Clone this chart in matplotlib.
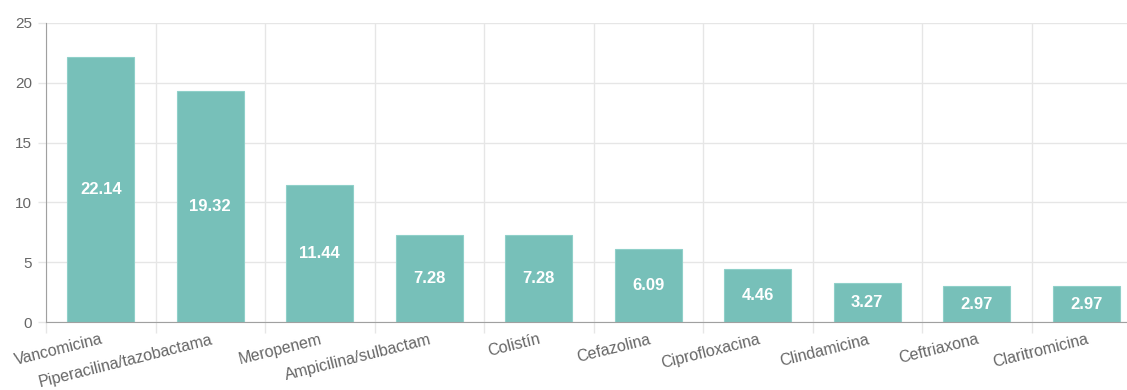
import matplotlib
matplotlib.use("Agg")
import matplotlib.pyplot as plt
import numpy as np

categories = ["Vancomicina", "Piperacilina/tazobactama", "Meropenem",
              "Ampicilina/sulbactam", "Colistín", "Cefazolina",
              "Ciprofloxacina", "Clindamicina", "Ceftriaxona", "Claritromicina"]
values = [22.14, 19.32, 11.44, 7.28, 7.28, 6.09, 4.46, 3.27, 2.97, 2.97]
y_ticks = [0, 5, 10, 15, 20, 25]

plt.rcParams["font.family"] = ["Liberation Sans", "DejaVu Sans"]

W, H = 1127, 390
fig = plt.figure(figsize=(W / 100, H / 100), dpi=100)
# plot area runs past the right edge of the image, as in the reference
left, right, top, bottom = 46, 1141, 23, 322
ax = fig.add_axes([left / W, (H - bottom) / H, (right - left) / W, (bottom - top) / H])

x = np.arange(len(categories))
bar_color = "#77c0b9"
bars = ax.bar(x, values, width=0.61, color=bar_color, edgecolor="#8fd0c9",
              linewidth=0.8, zorder=3)

for xi, v in zip(x, values):
    ax.text(xi, v / 2, f"{v:.2f}", ha="center", va="center", color="white",
            fontsize=12, fontweight="bold", zorder=4)

ax.set_xlim(-0.5, len(categories) - 0.5)
ax.set_ylim(0, 25)

grid_c = "#e6e6e6"
axis_c = "#a0a0a0"
text_c = "#666666"

ax.set_yticks(y_ticks)
ax.set_yticklabels([str(t) for t in y_ticks])
ax.tick_params(axis="y", length=6, width=1, color=grid_c, pad=4,
               labelsize=11, labelcolor=text_c)
ax.yaxis.grid(True, color=grid_c, linewidth=1, zorder=0)

ax.set_xticks(x)
ax.set_xticklabels(categories, rotation=14, ha="right", rotation_mode="anchor")
ax.tick_params(axis="x", which="major", length=0, pad=7,
               labelsize=11.5, labelcolor=text_c)
ax.set_xticks(np.arange(len(categories) + 1) - 0.5, minor=True)
ax.tick_params(axis="x", which="minor", length=8, width=1, color=grid_c)
ax.xaxis.grid(True, which="minor", color=grid_c, linewidth=1, zorder=0)
ax.xaxis.grid(False, which="major")
ax.set_axisbelow(True)

for s in ["top", "right"]:
    ax.spines[s].set_visible(False)
ax.spines["left"].set_color(axis_c)
ax.spines["bottom"].set_color(axis_c)
ax.spines["left"].set_zorder(5)
ax.spines["bottom"].set_zorder(5)

fig.savefig("out.png", dpi=100, facecolor="white")
